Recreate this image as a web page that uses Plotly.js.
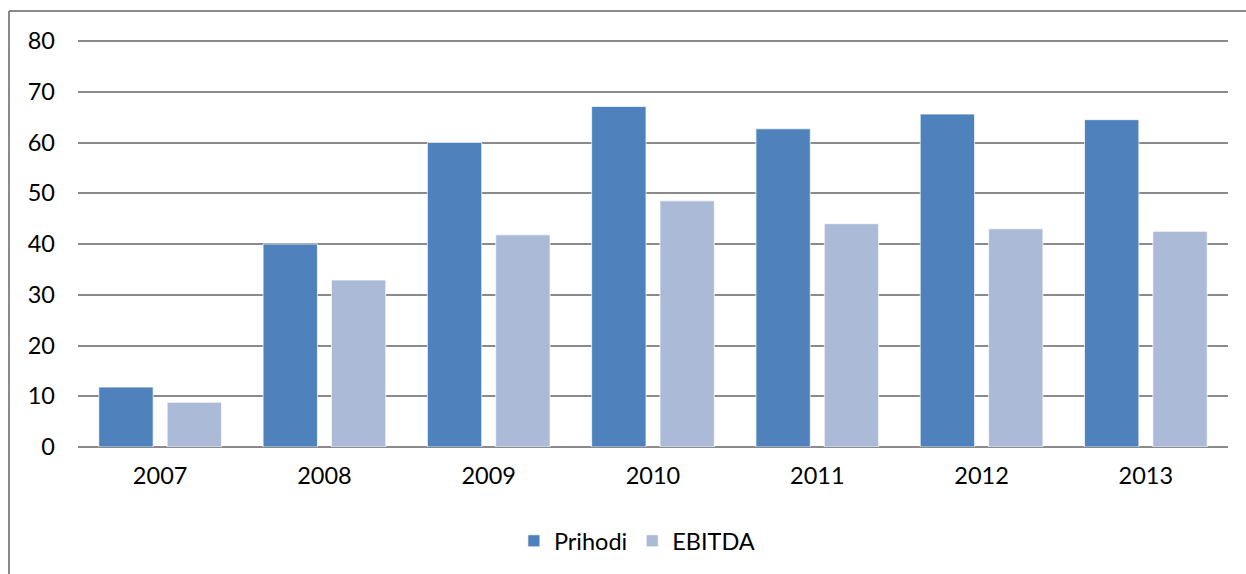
<!DOCTYPE html>
<html>
<head>
<meta charset="utf-8">
<script src="https://cdn.plot.ly/plotly-3.0.1.min.js"></script>
<style>
html,body{margin:0;padding:0;background:#fff;}
#chart{width:1246px;height:574px;}
</style>
</head>
<body>
<div id="chart"></div>
<script>
var years = ['2007','2008','2009','2010','2011','2012','2013'];
var prihodi = [11.8, 40.0, 60.0, 67.1, 62.7, 65.6, 64.5];
var ebitda = [8.8, 32.9, 41.8, 48.5, 44.0, 43.0, 42.5];
var yTicks = [0,10,20,30,40,50,60,70,80];

var font = {family: 'Lato, "Open Sans", sans-serif', size: 23.5, color: '#000'};

var traces = [
  {type:'bar', name:'Prihodi', x:years, y:prihodi,
   marker:{color:'#4F81BD', line:{color:'rgba(255,255,255,0.7)', width:1}}},
  {type:'bar', name:'EBITDA', x:years, y:ebitda,
   marker:{color:'#AABAD7', line:{color:'rgba(255,255,255,0.7)', width:1}}}
];

var layout = {
  width:1246, height:574,
  margin:{l:78, r:18, t:40, b:126, pad:0},
  paper_bgcolor:'#fff', plot_bgcolor:'#fff',
  font:font,
  barmode:'group', bargap:0.168, bargroupgap:0.205,
  showlegend:true,
  legend:{orientation:'h', x:0.486, xanchor:'center', y:-0.228, yanchor:'middle',
          font:font, itemwidth:30, traceorder:'normal'},
  xaxis:{type:'category', showgrid:false, zeroline:false, showline:false,
         ticks:'', tickfont:font, ticklabelstandoff:12},
  yaxis:{range:[0,80.2], tickvals:yTicks, ticktext:yTicks.map(String),
         showgrid:true, gridcolor:'#8a8a8a', gridwidth:2,
         zeroline:true, zerolinecolor:'#8a8a8a', zerolinewidth:2,
         showline:false, ticks:'', tickfont:font, ticklabelstandoff:22},
  shapes:[
    {type:'line', xref:'paper', yref:'paper', x0:(9-78)/1150, x1:(9-78)/1150, y0:(448-11)/408, y1:-0.5,
     line:{color:'#8a8a8a', width:2}},
    {type:'line', xref:'paper', yref:'paper', x0:(9-78)/1150, x1:1.1, y0:(448-11)/408, y1:(448-11)/408,
     line:{color:'#8a8a8a', width:2}}
  ]
};

Plotly.newPlot('chart', traces, layout, {staticPlot:true, displayModeBar:false});
</script>
</body>
</html>
